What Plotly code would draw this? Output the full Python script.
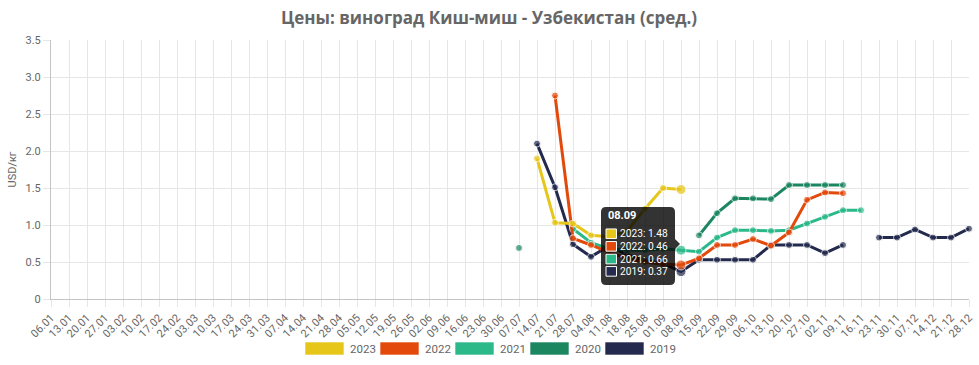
import plotly.graph_objects as go

# ---------------- data ----------------
weeks = ["06.01", "13.01", "20.01", "27.01", "03.02", "10.02", "17.02", "24.02",
         "03.03", "10.03", "17.03", "24.03", "31.03", "07.04", "14.04", "21.04",
         "28.04", "05.05", "12.05", "19.05", "26.05", "02.06", "09.06", "16.06",
         "23.06", "30.06", "07.07", "14.07", "21.07", "28.07", "04.08", "11.08",
         "18.08", "25.08", "01.09", "08.09", "15.09", "22.09", "29.09", "06.10",
         "13.10", "20.10", "27.10", "02.11", "09.11", "16.11", "23.11", "30.11",
         "07.12", "14.12", "21.12", "28.12"]

N = None
# 26 empty weeks (06.01 .. 30.06) precede the season
EMPTY_H1 = [N] * 26

prices_2023 = EMPTY_H1 + [N, 1.90, 1.03, 1.02, 0.86, 0.84, 0.92, 1.22, 1.50, 1.48,
                          N, N, N, N, N, N, N, N, N, N, N, N, N, N, N, N]
prices_2022 = EMPTY_H1 + [N, N, 2.75, 0.82, 0.73, 0.63, 0.55, 0.50, 0.47, 0.46,
                          0.55, 0.73, 0.73, 0.81, 0.72, 0.90, 1.34, 1.44, 1.43,
                          N, N, N, N, N, N, N]
prices_2021 = EMPTY_H1 + [N, N, N, 0.95, 0.76, 0.68, 0.66, 0.66, 0.68, 0.66,
                          0.64, 0.83, 0.93, 0.93, 0.92, 0.93, 1.02, 1.11, 1.20,
                          1.20, N, N, N, N, N, N]
prices_2020 = EMPTY_H1 + [0.69, N, N, N, N, N, N, N, N, N,
                          0.86, 1.16, 1.36, 1.36, 1.35, 1.54, 1.54, 1.54, 1.54,
                          N, N, N, N, N, N, N]
prices_2019 = EMPTY_H1 + [N, 2.10, 1.51, 0.74, 0.57, 0.72, 0.60, 0.52, 0.48, 0.37,
                          0.53, 0.53, 0.53, 0.53, 0.73, 0.73, 0.73, 0.62, 0.73,
                          N, 0.83, 0.83, 0.94, 0.83, 0.83, 0.95]

series_names = ["2023", "2022", "2021", "2020", "2019"]
series_values = [prices_2023, prices_2022, prices_2021, prices_2020, prices_2019]
series_colors = ["#E6C619", "#E2490B", "#2CB98A", "#1B8660", "#232A4D"]

y_tickvals = [0, 0.5, 1.0, 1.5, 2.0, 2.5, 3.0, 3.5]
y_ticktext = ["0", "0.5", "1.0", "1.5", "2.0", "2.5", "3.0", "3.5"]

title_text = "Цены: виноград Киш-миш - Узбекистан (сред.)"
y_title = "USD/кг"
hover_week = "08.09"

# ---------------- figure ----------------
W, H = 979, 365
ML, MR, MT, MB = 51, 10, 40, 66
PW, PH = W - ML - MR, H - MT - MB
FONT = "Roboto"
GRAY = "#666666"

hi = weeks.index(hover_week)

fig = go.Figure()
# Chart.js draws the first dataset on top -> add in reverse
for name, vals, col in reversed(list(zip(series_names, series_values, series_colors))):
    sizes = [10 if i == hi else 7 for i in range(len(weeks))]
    fig.add_trace(go.Scatter(
        x=weeks, y=vals, name=name, mode="lines+markers",
        line=dict(color=col, width=3),
        marker=dict(color=col, size=sizes),
        connectgaps=False, cliponaxis=False, showlegend=False,
        hoverinfo="skip",
    ))


def px2paper_x(px):
    return (px - ML) / PW


def px2paper_y(py):
    return (MT + PH - py) / PH


shapes = []
annotations = []

# ---- legend (manual, rectangular swatches) ----
leg_x0 = 305
leg_pitch = 75
for i, (name, col) in enumerate(zip(series_names, series_colors)):
    x0 = leg_x0 + i * leg_pitch
    shapes.append(dict(type="rect", xref="paper", yref="paper",
                       x0=px2paper_x(x0), x1=px2paper_x(x0 + 39),
                       y0=px2paper_y(355), y1=px2paper_y(342),
                       fillcolor=col, line=dict(color="rgba(255,255,255,0.6)", width=1),
                       layer="above"))
    annotations.append(dict(xref="paper", yref="paper",
                            x=px2paper_x(x0 + 43), y=px2paper_y(348.5),
                            xanchor="left", yanchor="middle", showarrow=False,
                            text=name, font=dict(family=FONT, size=11.5, color=GRAY)))

# ---- tooltip at hovered week ----
rows = [(n, c, v[hi]) for n, v, c in zip(series_names, series_values, series_colors)
        if v[hi] is not None]
anchor_y = sum(r[2] for r in rows) / len(rows)
TT_BG = "rgba(0,0,0,0.8)"
box_l, box_r, box_t, box_b, rad = -80, -6, 37, -41, 5
path = (f"M{box_l + rad},{box_t} L{box_r - rad},{box_t} Q{box_r},{box_t} {box_r},{box_t - rad} "
        f"L{box_r},{box_b + rad} Q{box_r},{box_b} {box_r - rad},{box_b} "
        f"L{box_l + rad},{box_b} Q{box_l},{box_b} {box_l},{box_b + rad} "
        f"L{box_l},{box_t - rad} Q{box_l},{box_t} {box_l + rad},{box_t} Z")
shapes.append(dict(type="path", xref="x", yref="y", xsizemode="pixel", ysizemode="pixel",
                   xanchor=hi, yanchor=anchor_y, path=path,
                   fillcolor=TT_BG, line=dict(width=0), layer="above"))
shapes.append(dict(type="path", xref="x", yref="y", xsizemode="pixel", ysizemode="pixel",
                   xanchor=hi, yanchor=anchor_y, path="M-6,5 L-1,0 L-6,-5 Z",
                   fillcolor=TT_BG, line=dict(width=0), layer="above"))
annotations.append(dict(x=hi, y=anchor_y, xref="x", yref="y",
                        xanchor="left", yanchor="middle", xshift=-75, yshift=28.5,
                        showarrow=False, text=f"<b>{hover_week}</b>",
                        font=dict(family=FONT, size=11, color="white")))
row_shifts = [10.3, -2.3, -15.0, -27.3]
for (n, c, v), ys in zip(rows, row_shifts):
    shapes.append(dict(type="rect", xref="x", yref="y", xsizemode="pixel", ysizemode="pixel",
                       xanchor=hi, yanchor=anchor_y, x0=-75, x1=-64.5,
                       y0=ys - 4.8, y1=ys + 4.8, fillcolor=c,
                       line=dict(color="white", width=1), layer="above"))
    annotations.append(dict(x=hi, y=anchor_y, xref="x", yref="y",
                            xanchor="left", yanchor="middle", xshift=-63.5, yshift=ys,
                            showarrow=False, text=f"{n}: {v:.2f}",
                            font=dict(family=FONT, size=10.2, color="white")))

fig.update_layout(
    width=W, height=H,
    margin=dict(l=ML, r=MR, t=MT, b=MB, pad=0),
    paper_bgcolor="white", plot_bgcolor="white",
    font=dict(family=FONT, color=GRAY, size=11),
    showlegend=False,
    title=dict(text=f"<b>{title_text}</b>", x=489 / W, xref="container", xanchor="center",
               y=1 - 18 / H, yref="container", yanchor="middle",
               font=dict(family="Open Sans", size=17, color=GRAY)),
    xaxis=dict(type="category", categoryorder="array", categoryarray=weeks,
               range=[0, len(weeks) - 1], showgrid=True, gridcolor="#e6e6e6", gridwidth=1,
               ticks="outside", ticklen=7, tickcolor="#e6e6e6", tickangle=-45,
               tickfont=dict(family=FONT, size=11, color=GRAY),
               showline=True, linecolor="#c4c4c4", linewidth=1,
               zeroline=False, automargin=False, fixedrange=True),
    yaxis=dict(range=[0, 3.5], tickvals=y_tickvals, ticktext=y_ticktext,
               showgrid=True, gridcolor="#e6e6e6", gridwidth=1,
               ticks="outside", ticklen=7, tickcolor="#e6e6e6",
               tickfont=dict(family=FONT, size=11, color=GRAY),
               showline=True, linecolor="#c4c4c4", linewidth=1, zeroline=False,
               title=dict(text=y_title, font=dict(family=FONT, size=11, color=GRAY), standoff=6),
               automargin=False, fixedrange=True),
    shapes=shapes,
    annotations=annotations,
)

fig.write_html("out.html", config={"displayModeBar": False},
               post_script="document.body.style.margin='0';document.body.style.overflow='hidden';")
